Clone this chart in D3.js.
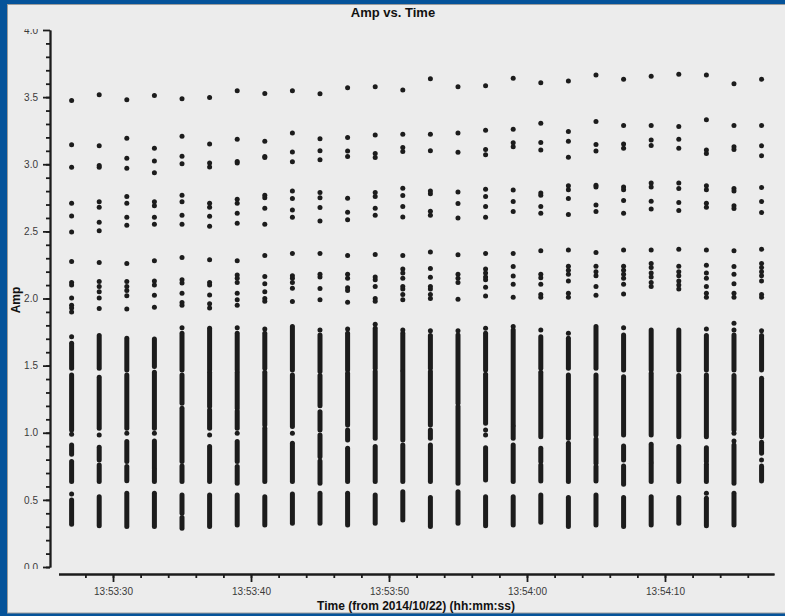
<!DOCTYPE html>
<html>
<head>
<meta charset="utf-8">
<script src="https://cdn.jsdelivr.net/npm/d3@7"></script>
<style>
  body { margin: 0; background: #05539a; }
  svg { display: block; }
  text { font-family: "Liberation Sans", Arial, Helvetica, sans-serif; }
</style>
</head>
<body>
<svg id="chart" width="785" height="616"></svg>
<script>
// one column of visibilities every 2 s
const times = ["13:53:27","13:53:29","13:53:31","13:53:33","13:53:35","13:53:37","13:53:39",
  "13:53:41","13:53:43","13:53:45","13:53:47","13:53:49","13:53:51","13:53:53","13:53:55",
  "13:53:57","13:53:59","13:54:01","13:54:03","13:54:05","13:54:07","13:54:09","13:54:11",
  "13:54:13","13:54:15","13:54:17"];

// isolated points per column
const points = [
  [3.475,3.145,2.978,2.710,2.615,2.496,2.275,2.119,2.10,2.004,1.95,1.93,1.90,1.716,0.989,0.544],
  [3.517,3.137,2.978,2.99,2.72,2.68,2.568,2.504,2.268,2.126,2.09,2.05,2.004,1.925,0.984],
  [3.48,3.194,3.045,2.971,2.76,2.71,2.606,2.546,2.26,2.126,2.09,2.06,2.02,1.922,0.996],
  [3.512,3.12,3.025,2.936,2.72,2.69,2.606,2.553,2.282,2.13,2.10,2.025,1.935,0.996],
  [3.487,3.209,3.06,3.003,2.77,2.72,2.62,2.553,2.305,2.14,2.115,2.04,1.97,1.95,1.783],
  [3.497,3.15,3.01,2.98,2.71,2.68,2.613,2.539,2.288,2.12,2.10,2.027,1.96,1.93,0.984],
  [3.547,3.187,3.02,3.01,2.74,2.71,2.635,2.56,2.282,2.175,2.15,2.12,2.04,1.99,1.95,1.783,0.996],
  [3.527,3.172,3.058,3.05,2.77,2.75,2.673,2.553,2.32,2.163,2.109,2.051,2.0,1.98,1.773],
  [3.547,3.232,3.092,3.018,2.80,2.744,2.66,2.606,2.335,2.17,2.15,2.12,2.077,1.977,0.996],
  [3.525,3.19,3.10,3.033,2.79,2.75,2.678,2.578,2.335,2.18,2.16,2.074,1.99,1.766],
  [3.569,3.20,3.098,3.058,2.747,2.643,2.586,2.32,2.18,2.15,2.08,2.06,1.972,1.773],
  [3.577,3.217,3.08,3.05,2.79,2.76,2.673,2.62,2.327,2.16,2.14,2.089,2.0,1.98,1.808],
  [3.554,3.224,3.125,3.095,2.822,2.767,2.685,2.608,2.32,2.22,2.19,2.151,2.09,2.07,2.03,1.99,1.766],
  [3.636,3.224,3.10,2.80,2.78,2.65,2.62,2.347,2.223,2.159,2.09,2.07,2.03,2.0,1.759],
  [3.577,3.232,3.09,2.794,2.707,2.60,2.325,2.18,2.15,2.12,1.995,1.759],
  [3.584,3.254,3.11,3.07,2.814,2.76,2.685,2.606,2.335,2.22,2.19,2.16,2.14,2.084,2.019,1.778,1.021,0.984],
  [3.64,3.261,3.16,3.13,2.809,2.722,2.648,2.335,2.238,2.168,2.107,2.01,1.791],
  [3.607,3.306,3.162,3.107,2.785,2.77,2.685,2.635,2.355,2.18,2.155,2.107,2.03,2.01,1.766],
  [3.621,3.244,3.172,3.053,2.84,2.81,2.744,2.625,2.362,2.24,2.21,2.18,2.13,2.04,2.01,1.741],
  [3.664,3.318,3.147,3.098,2.844,2.83,2.697,2.648,2.342,2.24,2.2,2.17,2.089,2.025],
  [3.634,3.289,3.15,3.12,2.83,2.81,2.73,2.635,2.362,2.24,2.21,2.18,2.15,2.107,2.034,1.783],
  [3.656,3.289,3.18,3.14,2.86,2.83,2.725,2.667,2.362,2.26,2.23,2.19,2.16,2.12,2.09],
  [3.671,3.281,3.187,3.12,2.86,2.82,2.715,2.655,2.367,2.24,2.2,2.17,2.13,2.1,2.07],
  [3.664,3.331,3.107,3.08,2.84,2.81,2.71,2.68,2.362,2.248,2.19,2.15,2.089,2.04,2.01,1.773,0.549],
  [3.599,3.289,3.13,3.11,2.82,2.80,2.69,2.67,2.355,2.238,2.18,2.11,2.04,2.01,1.816,1.766,0.996,0.939],
  [3.634,3.289,3.137,3.063,2.827,2.722,2.64,2.367,2.26,2.23,2.2,2.17,2.13,2.03,2.01,1.759,0.797]
];

// dense runs of points per column [low, high]
const runs = [
  [[1.48,1.667],[1.021,1.431],[0.84,0.909],[0.636,0.785],[0.318,0.499]],
  [[1.48,1.724],[1.033,1.413],[0.797,0.892],[0.636,0.760],[0.308,0.524]],
  [[1.468,1.704],[1.033,1.431],[0.785,0.934],[0.643,0.748],[0.301,0.549]],
  [[1.493,1.699],[1.033,1.451],[0.735,0.939],[0.636,0.723],[0.301,0.549]],
  [[1.468,1.741],[1.22,1.431],[0.785,1.182],[0.636,0.753],[0.40,0.537],[0.288,0.368]],
  [[1.468,1.778],[1.195,1.451],[1.033,1.17],[0.636,0.897],[0.301,0.537]],
  [[1.468,1.741],[1.182,1.451],[1.033,1.162],[0.785,0.934],[0.623,0.748],[0.313,0.537]],
  [[1.48,1.741],[1.058,1.451],[0.636,1.033],[0.313,0.524]],
  [[1.468,1.791],[1.046,1.431],[0.636,0.921],[0.325,0.544]],
  [[1.456,1.729],[1.202,1.426],[1.021,1.157],[0.822,0.984],[0.623,0.79],[0.325,0.549]],
  [[1.468,1.741],[1.058,1.443],[0.946,1.021],[0.636,0.884],[0.313,0.549]],
  [[1.48,1.778],[0.959,1.456],[0.636,0.897],[0.325,0.537]],
  [[1.468,1.741],[0.946,1.456],[0.636,0.909],[0.35,0.561]],
  [[1.48,1.724],[1.058,1.456],[0.959,1.021],[0.636,0.909],[0.301,0.517]],
  [[1.22,1.729],[0.623,1.195],[0.325,0.561]],
  [[1.468,1.741],[1.071,1.436],[0.648,0.889],[0.308,0.524]],
  [[1.058,1.766],[0.959,1.046],[0.636,0.909],[0.313,0.524]],
  [[1.48,1.716],[0.971,1.451],[0.785,0.884],[0.641,0.76],[0.333,0.537]],
  [[1.48,1.704],[0.959,1.431],[0.636,0.921],[0.301,0.517]],
  [[1.48,1.791],[0.984,1.431],[0.772,0.954],[0.641,0.748],[0.313,0.537]],
  [[1.468,1.729],[0.984,1.418],[0.797,0.902],[0.616,0.753],[0.301,0.517]],
  [[1.468,1.766],[0.984,1.443],[0.785,0.914],[0.636,0.772],[0.313,0.524]],
  [[1.468,1.766],[0.971,1.426],[0.636,0.897],[0.325,0.517]],
  [[1.468,1.724],[0.971,1.431],[0.785,0.889],[0.636,0.765],[0.308,0.512]],
  [[1.468,1.729],[1.021,1.426],[0.623,0.909],[0.313,0.549]],
  [[1.468,1.724],[0.971,1.406],[0.847,0.929],[0.641,0.753]]
];

const yMajor = [0, 0.5, 1, 1.5, 2, 2.5, 3, 3.5, 4];

const svg = d3.select("#chart");
const parseT = s => new Date("2014-10-22T" + s + "Z");
const ink = "#1c1c1c";

svg.append("rect")
  .attr("x", 7.5).attr("y", 4.5)
  .attr("width", 785).attr("height", 608.5)
  .attr("fill", "#ececec").attr("stroke", "#9c9c9c");

const x = d3.scaleUtc()
  .domain([new Date("2014-10-22T13:53:26.050Z"), new Date("2014-10-22T13:54:17.900Z")])
  .range([58.5, 774]);
const y = d3.scaleLinear().domain([0, 4]).range([567, 30]);

// y axis (labels clipped to the axis span)
svg.append("clipPath").attr("id", "yclip")
  .append("rect").attr("x", -50).attr("y", 29).attr("width", 60).attr("height", 540);

const yG = svg.append("g").attr("transform", "translate(50,0)").attr("clip-path", "url(#yclip)");
yG.append("g")
  .call(d3.axisLeft(y).tickValues(d3.range(0, 40).map(d => d / 10)).tickSize(4).tickSizeOuter(0).tickFormat(""));
yG.append("g")
  .call(d3.axisLeft(y).tickValues(yMajor).tickSize(7).tickSizeOuter(0).tickPadding(5).tickFormat(d3.format(".1f")));

// x axis
const xG = svg.append("g").attr("transform", "translate(0,574)");
xG.append("g")
  .call(d3.axisBottom(x).ticks(d3.utcSecond.every(2)).tickSize(4).tickSizeOuter(0).tickFormat(""));
xG.append("g")
  .call(d3.axisBottom(x).ticks(d3.utcSecond.every(10)).tickSize(8).tickSizeOuter(0).tickPadding(6)
    .tickFormat(d3.utcFormat("%H:%M:%S")));

svg.selectAll(".domain, .tick line").attr("stroke", ink).attr("stroke-width", 1.8);
svg.selectAll(".tick text").attr("fill", "#3a3a3a").attr("font-size", 10)
  .style("font-family", "'Liberation Sans', Arial, sans-serif");

// data
const cols = svg.append("g").selectAll("g")
  .data(times.map((t, i) => ({ t: parseT(t), pts: points[i], rns: runs[i] })))
  .join("g")
  .attr("transform", d => `translate(${x(d.t)},0)`);

cols.selectAll("line")
  .data(d => d.rns)
  .join("line")
  .attr("x1", 0).attr("x2", 0)
  .attr("y1", r => y(r[0])).attr("y2", r => y(r[1]))
  .attr("stroke", ink).attr("stroke-width", 5).attr("stroke-linecap", "round");

cols.selectAll("circle")
  .data(d => d.pts)
  .join("circle")
  .attr("cx", 0).attr("cy", v => y(v)).attr("r", 2.5)
  .attr("fill", ink);

// titles
svg.append("text").attr("x", 393).attr("y", 17).attr("text-anchor", "middle")
  .attr("font-size", 13).attr("font-weight", "bold").attr("fill", "#111").text("Amp vs. Time");
svg.append("text").attr("x", 416).attr("y", 610).attr("text-anchor", "middle")
  .attr("font-size", 12).attr("font-weight", "bold").attr("fill", "#111")
  .text("Time (from 2014/10/22) (hh:mm:ss)");
svg.append("text").attr("transform", "translate(20,300) rotate(-90)").attr("text-anchor", "middle")
  .attr("font-size", 12).attr("font-weight", "bold").attr("fill", "#111").text("Amp");
</script>
</body>
</html>
